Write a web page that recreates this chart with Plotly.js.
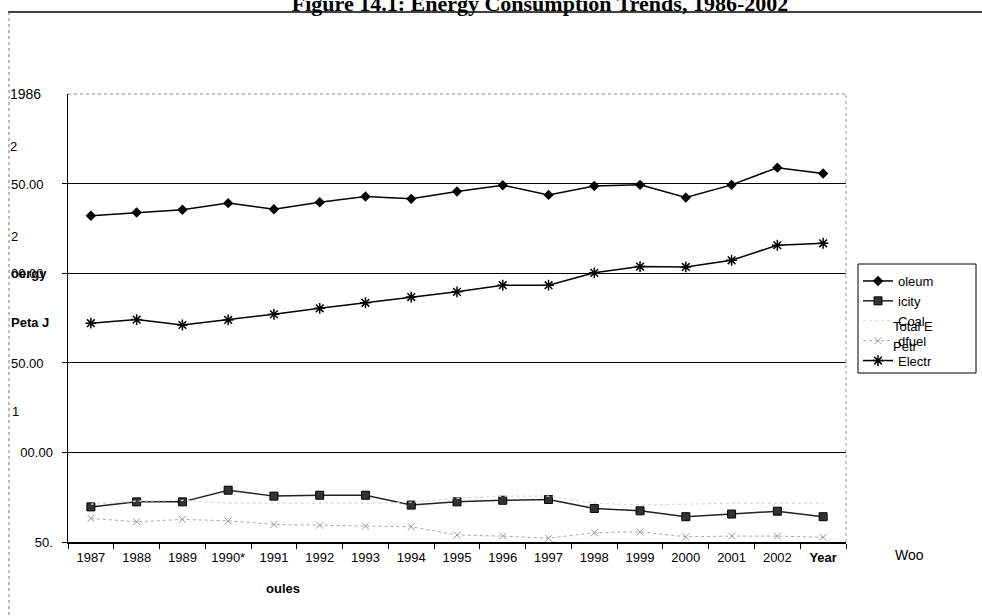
<!DOCTYPE html>
<html>
<head>
<meta charset="utf-8">
<script src="https://cdn.plot.ly/plotly-3.0.1.min.js"></script>
<style>html,body{margin:0;padding:0;background:#fff;}#chart{width:982px;height:616px;}</style>
</head>
<body>
<div id="chart"></div>
<script>
// ---- data ----
const years = ["1987","1988","1989","1990*","1991","1992","1993","1994","1995","1996","1997","1998","1999","2000","2001","2002","Year"];
const tickLabels = ["1987","1988","1989","1990*","1991","1992","1993","1994","1995","1996","1997","1998","1999","2000","2001","2002","<b>Year</b>"];
const petroleum   = [332.1,333.9,335.4,339.1,335.7,339.6,342.8,341.5,345.6,349.1,343.7,348.7,349.3,342.2,349.3,358.9,355.6];
const electricity = [272.1,274.1,271.1,273.9,277.1,280.4,283.5,286.7,289.6,293.3,293.3,300.2,303.7,303.5,307.2,315.6,316.7];
const squares     = [169.6,172.4,172.4,178.9,175.6,176.1,176.1,170.6,172.4,173.3,173.7,168.7,167.4,164.1,165.6,167.2,164.1];
const coal        = [171.1,172.8,173.3,171.7,171.7,171.7,171.7,172.2,174.4,175.6,175.6,171.7,170.6,171.1,171.7,171.7,171.7];
const woodfuel    = [163.2,161.3,162.6,161.8,159.8,159.4,158.9,158.5,153.9,153.3,152.1,155.2,155.7,152.9,153.3,153.3,152.6];
const yTickVals   = [150,200,250,300,350];
const yTickText   = ["50.","00.00","","",""];
const seriesNames = ["oleum","icity","Coal","dfuel","Electr"];

// ---- layout helpers (pixel -> paper) ----
const L = 68, R = 846, T = 94, B = 542;
const px = x => (x - L) / (R - L);
const py = y => 1 - (y - T) / (B - T);
const FONT = "Liberation Sans, Arial, sans-serif";

const traces = [
  {x: years, y: petroleum, name: seriesNames[0], mode: "lines+markers",
   line: {color: "#000", width: 1.5}, marker: {symbol: "diamond", size: 8, color: "#000"}},
  {x: years, y: squares, name: seriesNames[1], mode: "lines+markers",
   line: {color: "#222", width: 1.5}, marker: {symbol: "square", size: 8, color: "#333", line: {color: "#000", width: 1}}},
  {x: years, y: coal, name: seriesNames[2], mode: "lines",
   line: {color: "#d8d8d8", width: 1.2, dash: "dot"}},
  {x: years, y: woodfuel, name: seriesNames[3], mode: "lines+markers",
   line: {color: "#a8a8a8", width: 1, dash: "dot"}, marker: {symbol: "x-thin-open", size: 7, color: "#999", line: {color: "#999", width: 1}}},
  {x: years, y: electricity, name: seriesNames[4], mode: "lines+markers",
   line: {color: "#000", width: 1.5}, marker: {symbol: "asterisk-open", size: 9, color: "#000", line: {color: "#000", width: 1.5}}}
];

function ann(x, y, text, opts) {
  return Object.assign({xref: "paper", yref: "paper", x: px(x), y: py(y), text: text, showarrow: false,
    xanchor: "left", yanchor: "middle", font: {family: FONT, size: 13, color: "#000"}}, opts || {});
}

const annotations = [
  ann(8, 94, "1986", {font: {family: FONT, size: 14, color: "#000"}}),
  ann(8, 146, "2"),
  ann(9, 184, "50.00"),
  ann(9, 236, "2"),
  ann(9, 273, "00.00"),
  ann(9, 273, "<b>oergy</b>"),
  ann(9, 322, "<b>Peta J</b>"),
  ann(9, 363, "50.00"),
  ann(10, 411, "1"),
  ann(283, 588, "<b>oules</b>", {xanchor: "center"}),
  ann(909, 555, "Woo", {xanchor: "center", font: {family: FONT, size: 14, color: "#000"}}),
  ann(891, 326, "Total E"),
  ann(891, 346, "Petr")
];

const shapes = [
  {type: "line", xref: "paper", yref: "paper", x0: px(8), x1: px(982), y0: py(12), y1: py(12), line: {color: "#000", width: 1.5}},
  {type: "line", xref: "paper", yref: "paper", x0: px(9), x1: px(9), y0: py(12), y1: py(616), line: {color: "#777", width: 1, dash: "dot"}},
  {type: "line", xref: "paper", yref: "paper", x0: 0, x1: 1, y0: 1, y1: 1, line: {color: "#888", width: 1, dash: "dot"}},
  {type: "line", xref: "paper", yref: "paper", x0: 1, x1: 1, y0: 0, y1: 1, line: {color: "#999", width: 1, dash: "dot"}},
  {type: "rect", xref: "paper", yref: "paper", x0: px(858), x1: px(976), y0: py(264), y1: py(373), line: {color: "#000", width: 1}, fillcolor: "rgba(0,0,0,0)"}
];

const layout = {
  width: 982, height: 616,
  margin: {l: L, r: 982 - R, t: T, b: 616 - B},
  paper_bgcolor: "#fff", plot_bgcolor: "#fff",
  title: {text: "<b>Figure 14.1: Energy Consumption Trends, 1986-2002</b>",
          font: {family: "Liberation Serif, Times New Roman, serif", size: 22, color: "#000"},
          x: 540 / 982, xanchor: "center", xref: "container", y: 1 - 3 / 616, yanchor: "middle", yref: "container"},
  showlegend: true,
  legend: {x: px(858), y: py(266), xanchor: "left", yanchor: "top", bgcolor: "rgba(0,0,0,0)",
           borderwidth: 0, font: {family: FONT, size: 13, color: "#000"},
           tracegroupgap: 0, itemwidth: 30},
  xaxis: {type: "category", categoryorder: "array", categoryarray: years,
          range: [-0.5, years.length - 0.5], tickvals: years, ticktext: tickLabels,
          showline: true, linecolor: "#000", linewidth: 1.5, ticks: "outside", tickson: "boundaries",
          ticklen: 5, tickcolor: "#000", showgrid: false, zeroline: false, ticklabelstandoff: 3,
          tickfont: {family: FONT, size: 13, color: "#000"}, fixedrange: true},
  yaxis: {range: [150, 400], tickvals: yTickVals, ticktext: yTickText,
          showline: true, linecolor: "#000", linewidth: 1.5, ticks: "outside", ticklen: 5, tickcolor: "#000",
          showgrid: true, gridcolor: "#000", gridwidth: 1, zeroline: false,
          tickfont: {family: FONT, size: 13, color: "#000"}, ticklabelstandoff: 6, fixedrange: true},
  annotations: annotations,
  shapes: shapes
};

Plotly.newPlot("chart", traces, layout, {displayModeBar: false, staticPlot: true});
</script>
</body>
</html>
